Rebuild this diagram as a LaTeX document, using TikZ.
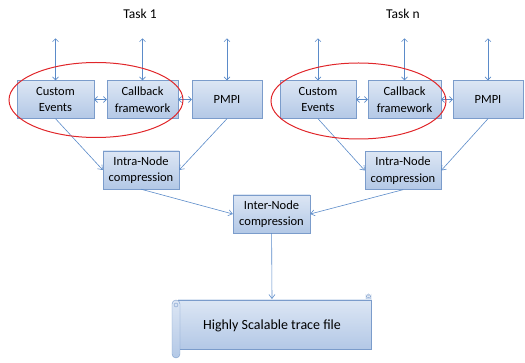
\documentclass[tikz,border=0pt]{standalone}
\usepackage{fontspec}
\setmainfont{Carlito}
\usetikzlibrary{arrows.meta,shadows}

\definecolor{boxline}{HTML}{7B9CCB}
\definecolor{boxtop}{HTML}{DCE6F4}
\definecolor{boxbot}{HTML}{B3C8E6}
\definecolor{arrowblue}{HTML}{5B8BC9}
\definecolor{ringred}{HTML}{E0262A}

\tikzset{
  blockbox/.style={draw=boxline, top color=boxtop, bottom color=boxbot,
    align=center, font=\fontsize{12.5}{16.5}\selectfont, inner sep=1pt,
    minimum height=38pt, drop shadow={shadow xshift=1pt, shadow yshift=-1pt, opacity=0.25}},
  link/.style={draw=arrowblue, line width=0.6pt, -{Straight Barb[length=4pt,width=6pt]}},
  twoway/.style={draw=arrowblue, line width=0.6pt, {Straight Barb[length=3pt,width=6pt]}-{Straight Barb[length=3pt,width=6pt]}},
  ring/.style={draw=ringred, line width=1pt},
  rollpart/.style={draw=boxline, top color=boxtop, bottom color=boxbot},
}

\begin{document}
\begin{tikzpicture}[x=1pt,y=-1pt]
    \useasboundingbox (0,0) rectangle (525,363);
    % task headings
    \node(task1) at (140,14) {\fontsize{13.5}{15}\selectfont Task 1};
    \node(taskn) at (403,14) {\fontsize{13.5}{15}\selectfont Task n};
    % first task
    \node[blockbox, minimum width=77pt](ce1) at (55.5,99.5) {Custom\\Events};
    \node[blockbox, minimum width=71pt](cb1) at (142.5,99.5) {Callback\\framework};
    \node[blockbox, minimum width=70pt](pm1) at (227,99.5) {PMPI};
    \node[blockbox, minimum width=76pt](in1) at (141,170) {Intra-Node\\compression};
    % last task
    \node[blockbox, minimum width=76pt](ce2) at (318,99.5) {Custom\\Events};
    \node[blockbox, minimum width=73pt](cb2) at (404.5,99.5) {Callback\\framework};
    \node[blockbox, minimum width=70pt](pm2) at (488,99.5) {PMPI};
    \node[blockbox, minimum width=76pt](in2) at (403,170.5) {Intra-Node\\compression};
    % merge
    \node[blockbox, minimum width=77pt](inter) at (271.5,214) {Inter-Node\\compression};
    % trace file scroll
    \coordinate(scroll) at (272,299);
    \draw[rollpart] (366,301) -- (366,295) arc (180:0:2.5) -- (371,301) -- cycle;
    \draw[draw=boxline] (368.5,295) circle (1.2);
    \draw[rollpart, drop shadow={shadow xshift=1pt, shadow yshift=-1pt, opacity=0.25}]
      (178,300) rectangle (371,349);
    \draw[rollpart, rounded corners=4pt] (172,300) rectangle (180,358);
    \draw[draw=boxline] (176,305) circle (2);
    \node(trace) at (272,326) {\fontsize{14}{16}\selectfont Highly Scalable trace file};
    % outside links
    \foreach \n in {ce1,cb1,pm1,ce2,cb2,pm2}
      \draw[twoway] (\n.north) -- ++(0,-42);
    \draw[twoway] (ce1) -- (cb1);
    \draw[twoway] (cb1) -- (pm1);
    \draw[twoway] (ce2) -- (cb2);
    \draw[twoway] (cb2) -- (pm2);
    \draw[link] (ce1.south) -- (in1.west);
    \draw[link] (pm1.south) -- (in1.east);
    \draw[link] (ce2.south) -- (in2.west);
    \draw[link] (pm2.south) -- (in2.east);
    \draw[link] (in1.south) -- (inter.west);
    \draw[link] (in2.south) -- (inter.east);
    \draw[link] (inter) -- (scroll);
    % highlighted pairs
    \draw[ring] (96,100) ellipse (87 and 37.5);
    \draw[ring] (358.5,101) ellipse (87.5 and 38);
\end{tikzpicture}
\end{document}
